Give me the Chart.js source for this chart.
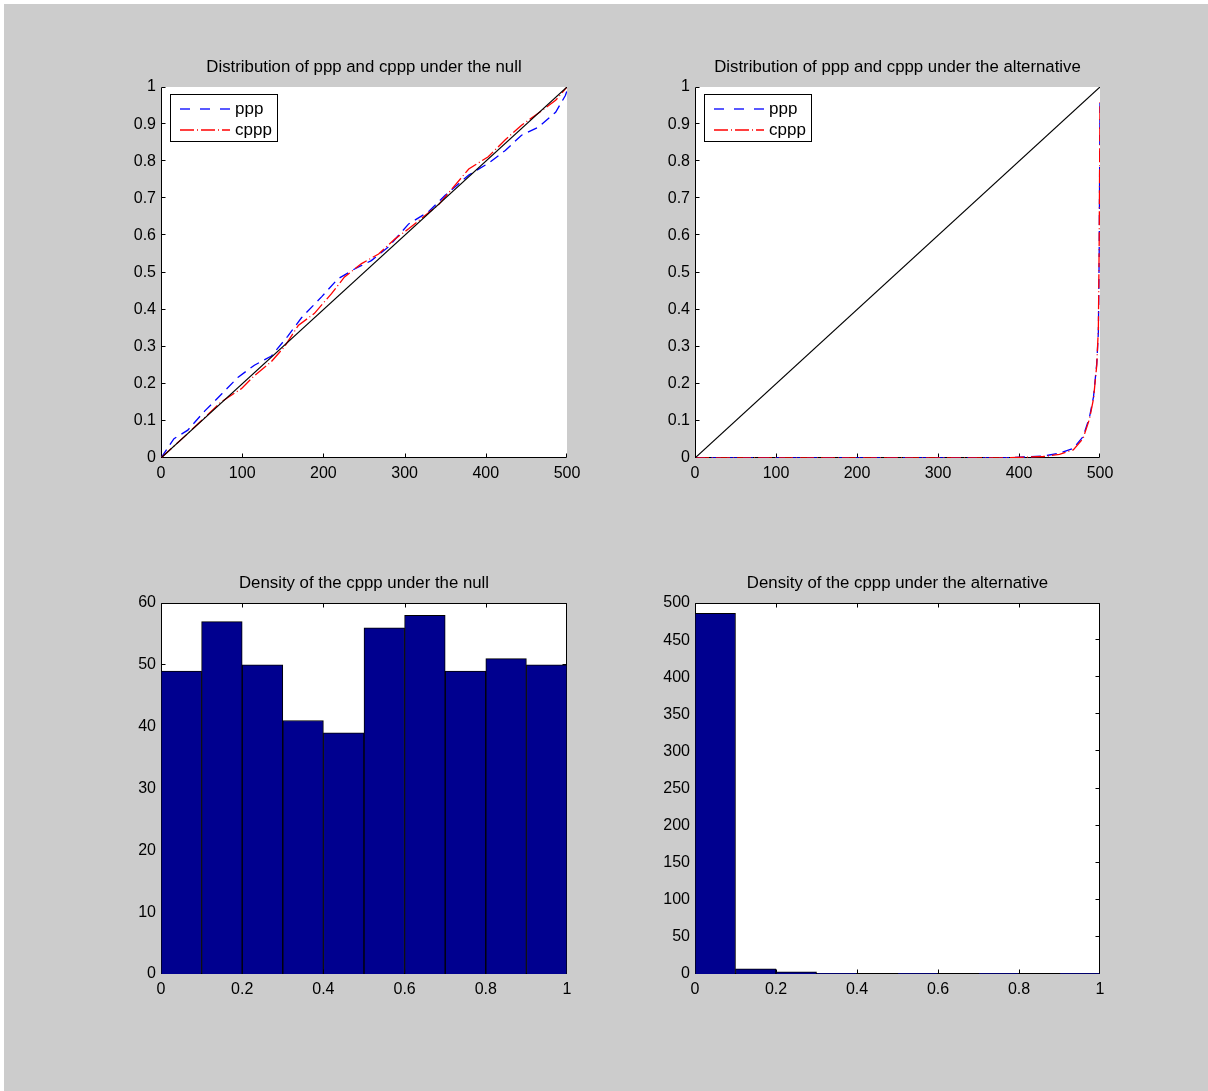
<!DOCTYPE html>
<html>
<head>
<meta charset="utf-8">
<script src="https://cdn.jsdelivr.net/npm/chart.js@4.4.0/dist/chart.umd.min.js"></script>
<style>
    body { margin: 0; background: #fff; width: 1208px; height: 1091px; position: relative; overflow: hidden; }
    #figure { position: absolute; left: 4px; top: 4px; width: 1204px; height: 1087px; background: #cccccc; }
    .plot { position: absolute; }
</style>
</head>
<body>
<div id="figure"></div>
<div class="plot" id="p1"><canvas id="chart1"></canvas></div>
<div class="plot" id="p2"><canvas id="chart2"></canvas></div>
<div class="plot" id="p3"><canvas id="chart3"></canvas></div>
<div class="plot" id="p4"><canvas id="chart4"></canvas></div>
<script>
// sorted p-values (index -> value)
const refIdx = [0, 500];
const refLine = [0, 1];

const pppIdxNull = [0, 16, 33, 54, 75, 95, 115, 136, 156, 173, 198, 218, 239, 259, 280, 305, 329, 350, 379, 403, 424, 444, 465, 486, 498, 500];
const pppNull = [0, 0.052, 0.075, 0.127, 0.173, 0.218, 0.25, 0.275, 0.328, 0.378, 0.435, 0.483, 0.51, 0.532, 0.569, 0.631, 0.663, 0.708, 0.763, 0.794, 0.829, 0.87, 0.892, 0.932, 0.977, 0.99];

const cpppIdxNull = [0, 33, 74, 99, 115, 136, 152, 169, 189, 210, 226, 247, 268, 288, 305, 342, 379, 403, 424, 444, 465, 486, 500];
const cpppNull = [0, 0.066, 0.151, 0.187, 0.222, 0.26, 0.3, 0.357, 0.39, 0.443, 0.488, 0.524, 0.55, 0.59, 0.618, 0.683, 0.779, 0.812, 0.858, 0.897, 0.93, 0.964, 1.0];

const altIdx = [0, 380, 430, 450, 467, 479, 487, 492, 496, 498, 499, 500];
const pppAlt = [0, 0, 0.005, 0.013, 0.026, 0.057, 0.11, 0.165, 0.255, 0.34, 0.55, 0.96];
const cpppAlt = [0, 0, 0.004, 0.01, 0.022, 0.052, 0.105, 0.16, 0.25, 0.35, 0.58, 0.96];

// histograms of cppp
const binCenters = [0.05, 0.15, 0.25, 0.35, 0.45, 0.55, 0.65, 0.75, 0.85, 0.95];
const nullCounts = [49, 57, 50, 41, 39, 56, 58, 49, 51, 50];
const altCounts = [486, 7, 3, 1, 0, 1, 0, 1, 0, 1];

const titles = [
    'Distribution of ppp and cppp under the null',
    'Distribution of ppp and cppp under the alternative',
    'Density of the cppp under the null',
    'Density of the cppp under the alternative'
];
const legendLabels = ['ppp', 'cppp'];

const FONT = '"Liberation Sans", Arial, Helvetica, sans-serif';
Chart.defaults.font.family = FONT;
Chart.defaults.font.size = 16;
Chart.defaults.color = '#000';
Chart.defaults.animation = false;

const PAD_L = 60, PAD_T = 40, PAD_R = 40, PAD_B = 40;

function place(id, left, top, right, bottom) {
    const el = document.getElementById(id);
    el.style.left = (left - PAD_L) + 'px';
    el.style.top = (top - PAD_T) + 'px';
    el.style.width = (right - left + PAD_L + PAD_R) + 'px';
    el.style.height = (bottom - top + PAD_T + PAD_B) + 'px';
}
place('p1', 161, 87, 567, 458);
place('p2', 695, 87, 1100, 458);
place('p3', 161, 603, 567, 974);
place('p4', 695, 603, 1100, 974);

const toPts = (xs, ys) => xs.map((x, i) => ({ x: x, y: ys[i] }));
const fmt = v => String(Number(v.toFixed(3)));

// white axes background
const axesBg = {
    id: 'axesBg',
    beforeDraw(chart) {
        const { ctx, chartArea: a } = chart;
        ctx.save();
        ctx.fillStyle = '#fff';
        ctx.fillRect(a.left, a.top, a.right - a.left, a.bottom - a.top);
        ctx.restore();
    }
};

// matlab-style axes: lines + inward ticks (under the data)
const axesLines = {
    id: 'axesLines',
    beforeDatasetsDraw(chart, args, opts) {
        const { ctx, chartArea: a, scales } = chart;
        const L = Math.round(a.left) + 0.5, R = Math.round(a.right) - 0.5;
        const T = Math.round(a.top) + 0.5, B = Math.round(a.bottom) - 0.5;
        const tl = 4;
        ctx.save();
        ctx.strokeStyle = '#000';
        ctx.lineWidth = 1;
        ctx.beginPath();
        ctx.moveTo(L, T); ctx.lineTo(L, B); ctx.lineTo(R, B);
        if (opts.box) { ctx.lineTo(R, T); ctx.lineTo(L, T); }
        scales.x.ticks.forEach(t => {
            const px = Math.min(R, Math.round(scales.x.getPixelForValue(t.value)) + 0.5);
            ctx.moveTo(px, B); ctx.lineTo(px, B - tl);
            if (opts.box) { ctx.moveTo(px, T); ctx.lineTo(px, T + tl); }
        });
        scales.y.ticks.forEach(t => {
            const py = Math.max(T, Math.round(scales.y.getPixelForValue(t.value)) - 0.5);
            ctx.moveTo(L, py); ctx.lineTo(L + tl, py);
            if (opts.box) { ctx.moveTo(R, py); ctx.lineTo(R - tl, py); }
        });
        ctx.stroke();
        ctx.restore();
    }
};

const figTitle = {
    id: 'figTitle',
    afterDraw(chart, args, opts) {
        const { ctx, chartArea: a } = chart;
        ctx.save();
        ctx.fillStyle = '#000';
        ctx.font = '16.8px ' + FONT;
        ctx.textAlign = 'center';
        ctx.textBaseline = 'middle';
        ctx.fillText(opts.text, (a.left + a.right) / 2, a.top - 20);
        ctx.restore();
    }
};

const figLegend = {
    id: 'figLegend',
    afterDraw(chart, args, opts) {
        if (!opts.show) return;
        const { ctx, chartArea: a } = chart;
        const x0 = Math.round(a.left) + 9.5, y0 = Math.round(a.top) + 7.5;
        ctx.save();
        ctx.fillStyle = '#fff';
        ctx.fillRect(x0, y0, 107, 47);
        ctx.strokeStyle = '#000';
        ctx.lineWidth = 1;
        ctx.strokeRect(x0, y0, 107, 47);
        const rows = [
            { label: legendLabels[0], color: '#0000ff', dash: [10, 10], y: 22 },
            { label: legendLabels[1], color: '#ff0000', dash: [14, 3, 1, 3], y: 43 }
        ];
        ctx.font = '17px ' + FONT;
        ctx.textBaseline = 'middle';
        rows.forEach(r => {
            const yy = Math.round(a.top) + r.y;
            ctx.strokeStyle = r.color;
            ctx.lineWidth = 1.3;
            ctx.setLineDash(r.dash);
            ctx.beginPath();
            ctx.moveTo(a.left + 19, yy);
            ctx.lineTo(a.left + 69, yy);
            ctx.stroke();
            ctx.setLineDash([]);
            ctx.fillStyle = '#000';
            ctx.fillText(r.label, a.left + 74, yy);
        });
        ctx.restore();
    }
};

function fixedAxes(xOpts, yOpts) {
    return {
        x: Object.assign({
            type: 'linear',
            offset: false,
            grid: { display: false, drawTicks: false },
            border: { display: false },
            afterFit: s => { s.height = PAD_B; }
        }, xOpts),
        y: Object.assign({
            type: 'linear',
            grid: { display: false, drawTicks: false },
            border: { display: false },
            afterFit: s => { s.width = PAD_L; }
        }, yOpts)
    };
}

function lineChart(canvasId, title, pppX, pppY, cpppX, cpppY) {
    new Chart(document.getElementById(canvasId), {
        type: 'line',
        data: {
            datasets: [
                { label: 'ref', data: toPts(refIdx, refLine), borderColor: '#000', borderWidth: 1.2, pointRadius: 0, order: 0 },
                { label: 'cppp', data: toPts(cpppX, cpppY), borderColor: '#ff0000', borderWidth: 1.3, borderDash: [14, 3, 1, 3], pointRadius: 0, order: 1 },
                { label: 'ppp', data: toPts(pppX, pppY), borderColor: '#0000ff', borderWidth: 1.3, borderDash: [10, 6], pointRadius: 0, order: 2 }
            ]
        },
        options: {
            responsive: true,
            maintainAspectRatio: false,
            layout: { padding: { top: PAD_T, right: PAD_R, left: 0, bottom: 0 } },
            scales: fixedAxes(
                { min: 0, max: 500, ticks: { stepSize: 100, padding: 6, maxRotation: 0, autoSkip: false, callback: fmt } },
                { min: 0, max: 1, ticks: { stepSize: 0.1, padding: 5, autoSkip: false, callback: fmt } }
            ),
            plugins: {
                legend: { display: false },
                tooltip: { enabled: false },
                axesLines: { box: false },
                figTitle: { text: title },
                figLegend: { show: true }
            }
        },
        plugins: [axesBg, axesLines, figTitle, figLegend]
    });
}

function histChart(canvasId, title, counts, yMax, yStep) {
    new Chart(document.getElementById(canvasId), {
        type: 'bar',
        data: {
            datasets: [{
                label: 'cppp',
                data: toPts(binCenters, counts),
                backgroundColor: '#00008f',
                borderColor: '#000',
                borderWidth: 1,
                barPercentage: 1,
                categoryPercentage: 1
            }]
        },
        options: {
            responsive: true,
            maintainAspectRatio: false,
            layout: { padding: { top: PAD_T, right: PAD_R, left: 0, bottom: 0 } },
            scales: fixedAxes(
                { min: 0, max: 1, ticks: { stepSize: 0.2, padding: 6, maxRotation: 0, autoSkip: false, callback: fmt } },
                { min: 0, max: yMax, ticks: { stepSize: yStep, padding: 5, autoSkip: false, callback: fmt } }
            ),
            plugins: {
                legend: { display: false },
                tooltip: { enabled: false },
                axesLines: { box: true },
                figTitle: { text: title },
                figLegend: { show: false }
            }
        },
        plugins: [axesBg, axesLines, figTitle, figLegend]
    });
}

lineChart('chart1', titles[0], pppIdxNull, pppNull, cpppIdxNull, cpppNull);
lineChart('chart2', titles[1], altIdx, pppAlt, altIdx, cpppAlt);
histChart('chart3', titles[2], nullCounts, 60, 10);
histChart('chart4', titles[3], altCounts, 500, 50);
</script>
</body>
</html>
